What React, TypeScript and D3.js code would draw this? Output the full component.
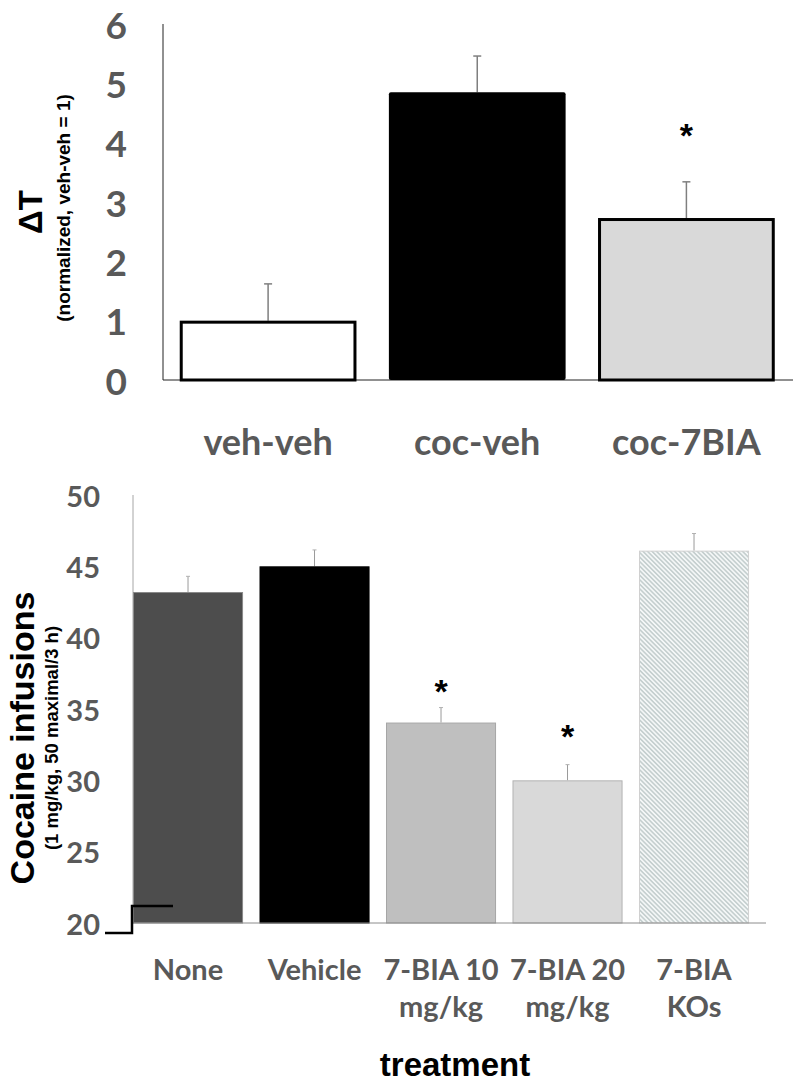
import React from "react";
import * as d3 from "d3";

// ---------- Top chart data ----------
const topCategories = ["veh-veh", "coc-veh", "coc-7BIA"];
const topMeans = [1.0, 4.85, 2.73];
const topErrors = [0.62, 0.61, 0.61];
const topTicks = [0, 1, 2, 3, 4, 5, 6];
const topStarValues: (number | null)[] = [null, null, 4.27];

// ---------- Bottom chart data ----------
const bottomCategories = [["None"], ["Vehicle"], ["7-BIA 10", "mg/kg"], ["7-BIA 20", "mg/kg"], ["7-BIA", "KOs"]];
const bottomMeans = [43.2, 45.0, 34.05, 30.0, 46.1];
const bottomErrors = [1.1, 1.15, 1.05, 1.1, 1.2];
const bottomTicks = [20, 25, 30, 35, 40, 45, 50];
const bottomStarValues: (number | null)[] = [null, null, 36.8, 33.65, null];

const W = 793;
const H = 1092;

const tickFont = "Lato, 'Open Sans', sans-serif";
const titleFont = "'Liberation Sans', Arial, sans-serif";
const gray = "#595959";

export default function App() {
  const xTop = d3.scaleBand<string>().domain(topCategories).range([163, 791.5]).paddingInner(0.155).paddingOuter(0.08);
  const yTop = d3.scaleLinear().domain([0, 6]).range([380, 24]);

  const botKeys = bottomCategories.map((c) => c.join(" "));
  const xBot = d3.scaleBand<string>().domain(botKeys).range([133, 766]).paddingInner(0.13).paddingOuter(0.067).align(0);
  const yBot = d3.scaleLinear().domain([20, 50]).range([923, 495]);

  const topFills = ["#ffffff", "#000000", "#d9d9d9"];
  const botFills = ["#4d4d4d", "#000000", "#bfbfbf", "#d9d9d9", "url(#hatch)"];
  const botStrokes = ["#8a8a8a", "#000000", "#a6a6a6", "#b3b3b3", "#d0d0d0"];

  return (
    <div style={{ position: "absolute", left: 0, top: 0 }}>
      <svg width={W} height={H} viewBox={`0 0 ${W} ${H}`} style={{ display: "block", background: "#fff" }}>
        <defs>
          <pattern id="hatch" patternUnits="userSpaceOnUse" width={3.2} height={3.2} patternTransform="rotate(-45)">
            <rect width={3.2} height={3.2} fill="#f4f7f7" />
            <line x1={0.8} y1={0} x2={0.8} y2={3.2} stroke="#a9b8b8" strokeWidth={1} />
          </pattern>
        </defs>

        {/* ================= TOP CHART ================= */}
        <line x1={163} y1={yTop(6)} x2={163} y2={yTop(0)} stroke="#222" strokeWidth={1} />
        <line x1={163} y1={yTop(0)} x2={W} y2={yTop(0)} stroke="#222" strokeWidth={1} />
        {topTicks.map((t) => (
          <text key={t} x={127} y={yTop(t)} textAnchor="end" dominantBaseline="central"
            fontFamily={tickFont} fontWeight={700} fontSize={37} fill={gray}>{t}</text>
        ))}
        <text transform={`translate(42,212) rotate(-90)`} textAnchor="middle" fontFamily={titleFont}
          fontWeight={700} fontSize={33} fill="#000">ΔT</text>
        <text transform={`translate(70,208) rotate(-90)`} textAnchor="middle" fontFamily={titleFont}
          fontWeight={700} fontSize={19} fill="#000">(normalized, veh-veh = 1)</text>
        {topCategories.map((c, i) => {
          const x0 = xTop(c)!;
          const bw = xTop.bandwidth();
          const isBlack = i === 1;
          const sw = isBlack ? 0 : 3;
          return (
            <g key={c}>
              <line x1={x0 + bw / 2} x2={x0 + bw / 2} y1={yTop(topMeans[i])} y2={yTop(topMeans[i] + topErrors[i])}
                stroke="#7f7f7f" strokeWidth={1.5} />
              <line x1={x0 + bw / 2 - 4} x2={x0 + bw / 2 + 4} y1={yTop(topMeans[i] + topErrors[i])}
                y2={yTop(topMeans[i] + topErrors[i])} stroke="#7f7f7f" strokeWidth={1.5} />
              <rect x={x0 + sw / 2} y={yTop(topMeans[i]) + sw / 2} width={bw - sw}
                height={yTop(0) - yTop(topMeans[i]) - sw / 2}
                fill={topFills[i]} stroke={isBlack ? "none" : "#000"} strokeWidth={sw} rx={isBlack ? 2 : 0} />
              <text x={x0 + bw / 2} y={455} textAnchor="middle" fontFamily={tickFont} fontWeight={700}
                fontSize={36} fill={gray}>{c}</text>
              {topStarValues[i] !== null && (
                <text x={x0 + bw / 2} y={yTop(topStarValues[i] as number) + 20} textAnchor="middle"
                  fontFamily={titleFont} fontWeight={700} fontSize={34} fill="#000">*</text>
              )}
            </g>
          );
        })}

        {/* ================= BOTTOM CHART ================= */}
        <line x1={133} y1={yBot(50)} x2={133} y2={yBot(20)} stroke="#a6a6a6" strokeWidth={1} />
        {bottomTicks.map((t) => (
          <text key={t} x={100} y={yBot(t)} textAnchor="end" dominantBaseline="central"
            fontFamily={tickFont} fontWeight={700} fontSize={29} fill={gray}>{t}</text>
        ))}
        <text transform={`translate(34,738) rotate(-90)`} textAnchor="middle" fontFamily={titleFont}
          fontWeight={700} fontSize={34} fill="#000">Cocaine infusions</text>
        <text transform={`translate(58,738) rotate(-90)`} textAnchor="middle" fontFamily={titleFont}
          fontWeight={700} fontSize={18.5} fill="#000">(1 mg/kg, 50 maximal/3 h)</text>

        {botKeys.map((k, i) => {
          const x0 = xBot(k)!;
          const bw = xBot.bandwidth();
          const cx = x0 + bw / 2;
          const top = yBot(bottomMeans[i]);
          const etop = yBot(bottomMeans[i] + bottomErrors[i]);
          return (
            <g key={k}>
              <line x1={cx} x2={cx} y1={top} y2={etop} stroke="#9a9a9a" strokeWidth={1} />
              <line x1={cx - 2} x2={cx + 2} y1={etop} y2={etop} stroke="#b0b0b0" strokeWidth={1} />
              <rect x={x0 + 0.5} y={top + 0.5} width={bw - 1} height={yBot(20) - top - 0.5}
                fill={botFills[i]} stroke={botStrokes[i]} strokeWidth={1} />
              {bottomCategories[i].map((line, j) => (
                <text key={j} x={cx} y={980 + j * 37} textAnchor="middle" fontFamily={tickFont}
                  fontWeight={700} fontSize={29} fill={gray}>{line}</text>
              ))}
              {bottomStarValues[i] !== null && (
                <text x={cx} y={yBot(bottomStarValues[i] as number) + 20} textAnchor="middle"
                  fontFamily={titleFont} fontWeight={700} fontSize={34} fill="#000">*</text>
              )}
            </g>
          );
        })}
        <line x1={133} y1={yBot(20)} x2={766} y2={yBot(20)} stroke="#8c8c8c" strokeWidth={1} />
        <path d={`M105,${yBot(20) + 10} H132 V${yBot(20) - 17} H173`} fill="none" stroke="#000" strokeWidth={2.5} />

        <text x={455} y={1076} textAnchor="middle" fontFamily={titleFont} fontWeight={700} fontSize={33}
          fill="#000">treatment</text>
      </svg>
    </div>
  );
}
